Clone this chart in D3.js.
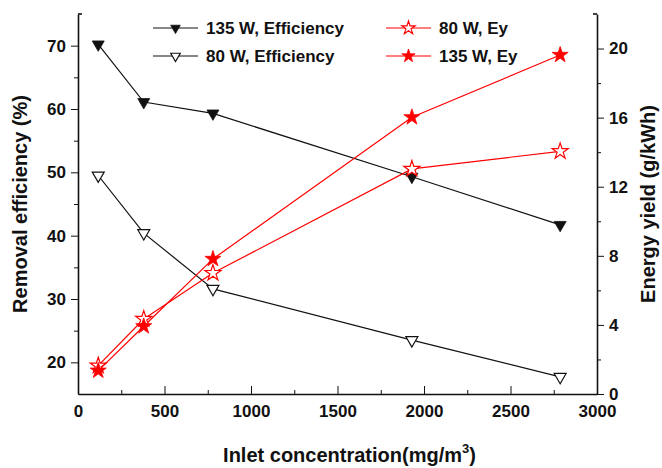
<!DOCTYPE html>
<html lang="en">
<head>
<meta charset="UTF-8">
<title>Removal efficiency and energy yield</title>
<script src="https://d3js.org/d3.v7.min.js"></script>
<style>
  body { margin: 0; background: #fff; }
  svg { font-family: Arial, "Liberation Sans", sans-serif; }
  .axis path, .axis line { stroke: #111; }
  .axis text { font-size: 17px; font-weight: bold; fill: #111; }
  .title { font-size: 20px; font-weight: bold; fill: #111; }
  .legend text { font-size: 17px; font-weight: bold; fill: #111; }
</style>
</head>
<body>
<div id="chart"></div>
<script>
// inlet concentration (mg/m3)
const concentration = [117, 380, 780, 1930, 2787];
// removal efficiency (%)
const eff135 = [70.2, 61.1, 59.3, 49.3, 41.7];
const eff80 = [49.5, 40.4, 31.6, 23.5, 17.7];
// energy yield (g/kWh)
const ey80 = [1.64, 4.34, 7.0, 13.03, 14.05];
const ey135 = [1.35, 3.92, 7.82, 16.02, 19.63];

const xTicks = [0, 500, 1000, 1500, 2000, 2500, 3000];
const effTicks = [20, 30, 40, 50, 60, 70];
const eyTicks = [0, 4, 8, 12, 16, 20];

const width = 662, height = 468;
const margin = {top: 14, right: 65, bottom: 74, left: 78};

const svg = d3.select("#chart").append("svg")
    .attr("width", width)
    .attr("height", height);

const x = d3.scaleLinear().domain([0, 3000]).range([margin.left, width - margin.right]);
const yL = d3.scaleLinear().domain([15, 75]).range([height - margin.bottom, margin.top]);
const yR = d3.scaleLinear().domain([0, 22]).range([height - margin.bottom, margin.top]);

const series = [
    {name: "135 W, Efficiency", values: eff135, y: yL, color: "#111", shape: "tri", filled: true},
    {name: "80 W, Efficiency", values: eff80, y: yL, color: "#111", shape: "tri", filled: false},
    {name: "80 W, Ey", values: ey80, y: yR, color: "#ff0000", shape: "star", filled: false},
    {name: "135 W, Ey", values: ey135, y: yR, color: "#ff0000", shape: "star", filled: true}
];

function symbolPath(s, size) {
    const type = s.shape === "tri" ? d3.symbolTriangle : d3.symbolStar;
    return d3.symbol().type(type).size(size)();
}

function drawMarker(g, s, cx, cy, size) {
    g.append("path")
        .attr("d", symbolPath(s, size))
        .attr("transform", `translate(${cx},${cy})` + (s.shape === "tri" ? " rotate(180)" : ""))
        .attr("fill", s.filled ? s.color : "#fff")
        .attr("stroke", s.color)
        .attr("stroke-width", s.filled ? 0.8 : 1.2);
}

// axes
const bottom = height - margin.bottom;
svg.append("g").attr("class", "axis")
    .attr("transform", `translate(0,${bottom})`)
    .call(d3.axisBottom(x).tickValues(xTicks).tickFormat(d3.format("d"))
        .tickSizeInner(-8).tickSizeOuter(0).tickPadding(11))
    .call(g => g.select(".domain").attr("stroke-width", 1.6));
svg.append("g").attr("class", "axis")
    .attr("transform", `translate(0,${bottom})`)
    .call(d3.axisBottom(x).tickValues(d3.range(250, 3000, 500)).tickSizeInner(-4).tickSizeOuter(0).tickFormat(""))
    .call(g => g.select(".domain").remove());

svg.append("g").attr("class", "axis")
    .attr("transform", `translate(${margin.left},0)`)
    .call(d3.axisLeft(yL).tickValues(effTicks).tickSizeInner(7).tickSizeOuter(0).tickPadding(5))
    .call(g => g.select(".domain").attr("stroke-width", 1.6));
svg.append("g").attr("class", "axis")
    .attr("transform", `translate(${margin.left},0)`)
    .call(d3.axisLeft(yL).tickValues(d3.range(25, 70, 10)).tickSizeInner(4).tickSizeOuter(0).tickFormat(""))
    .call(g => g.select(".domain").remove());

svg.append("g").attr("class", "axis")
    .attr("transform", `translate(${width - margin.right},0)`)
    .call(d3.axisRight(yR).tickValues(eyTicks).tickSizeInner(7).tickSizeOuter(0).tickPadding(5))
    .call(g => g.select(".domain").attr("stroke-width", 1.6));
svg.append("g").attr("class", "axis")
    .attr("transform", `translate(${width - margin.right},0)`)
    .call(d3.axisRight(yR).tickValues(d3.range(2, 21, 4)).tickSizeInner(4).tickSizeOuter(0).tickFormat(""))
    .call(g => g.select(".domain").remove());

// small caps at the top of both vertical axes
svg.append("line").attr("x1", margin.left).attr("x2", margin.left + 4)
    .attr("y1", margin.top).attr("y2", margin.top).attr("stroke", "#111").attr("stroke-width", 1.6);
svg.append("line").attr("x1", width - margin.right - 4).attr("x2", width - margin.right)
    .attr("y1", margin.top).attr("y2", margin.top).attr("stroke", "#111").attr("stroke-width", 1.6);

// lines and markers
series.forEach(s => {
    const line = d3.line().x((d, i) => x(concentration[i])).y(d => s.y(d));
    svg.append("path")
        .datum(s.values)
        .attr("d", line)
        .attr("fill", "none")
        .attr("stroke", s.color)
        .attr("stroke-width", 1.2);
});
series.forEach(s => {
    const g = svg.append("g");
    s.values.forEach((v, i) => drawMarker(g, s, x(concentration[i]), s.y(v), s.shape === "tri" ? 62 : 80));
});

// legend
const legendPos = [[153, 28], [153, 56], [386, 28], [386, 56]];
const legend = svg.append("g").attr("class", "legend");
series.forEach((s, i) => {
    const [lx, ly] = legendPos[i];
    legend.append("line").attr("x1", lx).attr("x2", lx + 45)
        .attr("y1", ly).attr("y2", ly)
        .attr("stroke", s.color).attr("stroke-width", 1.2);
    drawMarker(legend, s, lx + 22.5, ly, s.shape === "tri" ? 40 : 55);
    legend.append("text").attr("x", lx + 53).attr("y", ly).attr("dy", "0.35em").text(s.name);
});

// axis titles
svg.append("text").attr("class", "title")
    .attr("x", (margin.left + width - margin.right) / 2 + 12).attr("y", 462)
    .attr("text-anchor", "middle")
    .html('Inlet concentration(mg/m<tspan dy="-9" font-size="13">3</tspan><tspan dy="9">)</tspan>');
svg.append("text").attr("class", "title")
    .attr("transform", `translate(27,${(margin.top + bottom) / 2}) rotate(-90)`)
    .attr("text-anchor", "middle")
    .text("Removal efficiency (%)");
svg.append("text").attr("class", "title")
    .attr("transform", `translate(655,${(margin.top + bottom) / 2}) rotate(-90)`)
    .attr("text-anchor", "middle")
    .text("Energy yield (g/kWh)");
</script>
</body>
</html>
